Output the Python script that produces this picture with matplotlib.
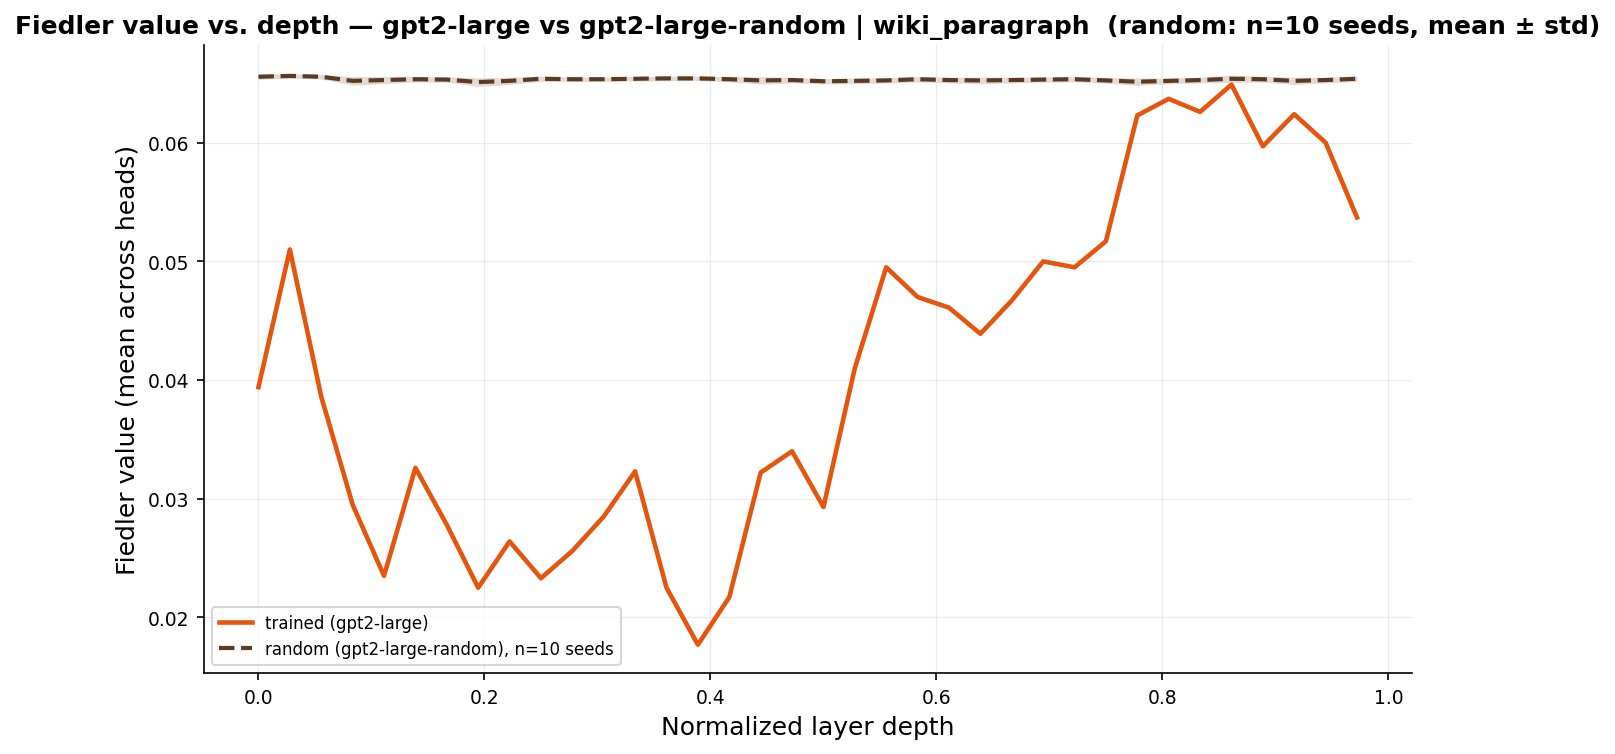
import numpy as np
import matplotlib
matplotlib.use("Agg")
import matplotlib.pyplot as plt

n_layers = 36
depth = np.arange(n_layers) / n_layers

trained = [0.0394, 0.0510, 0.0386, 0.0295, 0.0235, 0.0326, 0.0278, 0.0225, 0.0264, 0.0233,
           0.0256, 0.0285, 0.0323, 0.0225, 0.0177, 0.0217, 0.0322, 0.0340, 0.0293, 0.0410,
           0.0495, 0.0470, 0.0461, 0.0439, 0.0467, 0.0500, 0.0495, 0.0517, 0.0623, 0.0637,
           0.0626, 0.0649, 0.0597, 0.0624, 0.0600, 0.0537]

random_mean = [0.06556, 0.06563, 0.06556, 0.06521, 0.06528, 0.06535, 0.06532, 0.06511, 0.06521, 0.06539,
               0.06535, 0.06535, 0.06539, 0.06542, 0.06542, 0.06535, 0.06525, 0.06528, 0.06518, 0.06521,
               0.06525, 0.06535, 0.06528, 0.06525, 0.06528, 0.06532, 0.06535, 0.06525, 0.06514, 0.06521,
               0.06528, 0.06539, 0.06535, 0.06521, 0.06528, 0.06539]

random_std = [0.00022, 0.00019, 0.00019, 0.00036, 0.00031, 0.00024, 0.00022, 0.00036, 0.00031, 0.00022,
              0.00019, 0.00019, 0.00019, 0.00019, 0.00019, 0.00022, 0.00031, 0.00024, 0.00022, 0.00024,
              0.00022, 0.00022, 0.00024, 0.00029, 0.00024, 0.00022, 0.00022, 0.00024, 0.00031, 0.00024,
              0.00024, 0.00031, 0.00024, 0.00031, 0.00024, 0.00024]

c_trained = "#e6550d"
c_random = "#5c3a21"

fig = plt.figure(figsize=(10.77, 5.033), dpi=150)
ax = fig.add_axes([0.126, 0.107, 0.748, 0.832])

rm = np.array(random_mean)
rs = np.array(random_std)
ax.plot(depth, trained, color=c_trained, lw=2.2, label="trained (gpt2-large)")
ax.fill_between(depth, rm - rs, rm + rs, color=c_random, alpha=0.18, linewidth=0)
ax.plot(depth, rm, color=c_random, lw=2.0, ls="--", label="random (gpt2-large-random), n=10 seeds")

ax.set_xlabel("Normalized layer depth", fontsize=12)
ax.set_ylabel("Fiedler value (mean across heads)", fontsize=12)
ax.set_title("Fiedler value vs. depth — gpt2-large vs gpt2-large-random | wiki_paragraph  (random: n=10 seeds, mean ± std)",
             fontsize=12, fontweight="bold")
ax.set_xticks([0.0, 0.2, 0.4, 0.6, 0.8, 1.0])
ax.set_yticks([0.02, 0.03, 0.04, 0.05, 0.06])
ax.tick_params(labelsize=9)
ax.grid(True, color="#e5e5e5", lw=0.6, alpha=0.8)
ax.spines["top"].set_visible(False)
ax.spines["right"].set_visible(False)
ax.legend(loc="lower left", fontsize=8)

fig.savefig("out.png", dpi=150)
